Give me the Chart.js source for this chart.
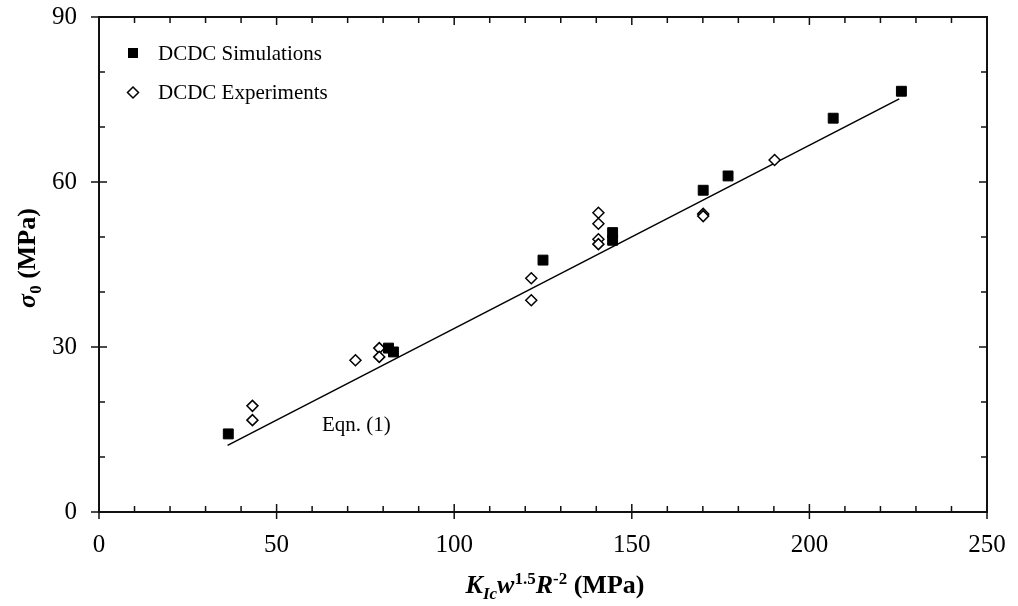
<!DOCTYPE html>
<html lang="en">
<head>
    <meta charset="UTF-8">
    <title>Chart</title>
    <style>
        body { margin: 0; background: #fff; }
    </style>
</head>
<body>
    <canvas id="myChart" width="1018" height="606"></canvas>

    <script src="https://cdn.jsdelivr.net/npm/chart.js@4.4.0/dist/chart.umd.min.js"></script>
    <script>
        // DCDC simulations (filled squares)
        let simX = [36.4, 81.5, 82.9, 125.0, 144.6, 144.6, 170.1, 177.1, 206.7, 225.9];
        let simY = [14.2, 29.8, 29.1, 45.8, 50.8, 49.4, 58.5, 61.1, 71.6, 76.5];
        // DCDC experiments (open diamonds)
        let expX = [43.2, 43.2, 72.2, 78.9, 78.9, 121.7, 121.7, 140.6, 140.6, 140.6, 140.6, 170.1, 170.1, 190.2];
        let expY = [19.3, 16.7, 27.6, 29.8, 28.2, 42.5, 38.5, 54.4, 52.4, 49.6, 48.7, 54.2, 53.8, 64.0];
        // Eqn. (1) line end points
        let eqnX = [36.2, 225.3];
        let eqnY = [12.1, 75.1];

        let xTicks = [0, 50, 100, 150, 200, 250];
        let yTicks = [0, 30, 60, 90];

        const serif = "'Liberation Serif', 'Times New Roman', serif";

        function pts(xs, ys) { return xs.map((x, i) => ({x: x, y: ys[i]})); }

        // frame, ticks, legend, axis titles, label
        const decor = {
            id: 'decor',
            afterDraw(chart) {
                const c = chart.ctx, a = chart.chartArea;
                const sx = chart.scales.x, sy = chart.scales.y;
                c.save();
                c.strokeStyle = '#111';
                c.lineWidth = 2;
                c.strokeRect(a.left, a.top, a.right - a.left, a.bottom - a.top);
                c.lineWidth = 1.5;
                c.beginPath();
                for (let v = 10; v < 250; v += 10) {
                    const px = sx.getPixelForValue(v);
                    const major = v % 50 === 0;
                    const len = major ? 8 : 6;
                    c.moveTo(px, a.bottom + (major ? 7 : 0)); c.lineTo(px, a.bottom - len);
                    c.moveTo(px, a.top); c.lineTo(px, a.top + len);
                }
                for (let v = 10; v < 90; v += 10) {
                    const py = sy.getPixelForValue(v);
                    const major = v % 30 === 0;
                    const len = major ? 8 : 6;
                    c.moveTo(a.left - (major ? 8 : 0), py); c.lineTo(a.left + len, py);
                    c.moveTo(a.right, py); c.lineTo(a.right - len, py);
                }
                c.moveTo(a.left - 8, a.bottom); c.lineTo(a.left, a.bottom);
                c.moveTo(a.left - 8, a.top); c.lineTo(a.left, a.top);
                c.moveTo(a.left, a.bottom); c.lineTo(a.left, a.bottom + 7);
                c.moveTo(a.right, a.bottom); c.lineTo(a.right, a.bottom + 7);
                c.stroke();

                // legend
                c.fillStyle = '#000';
                c.fillRect(128, 48, 10, 10);
                c.beginPath();
                c.moveTo(133, 87); c.lineTo(138.5, 92.5); c.lineTo(133, 98); c.lineTo(127.5, 92.5); c.closePath();
                c.fillStyle = '#fff'; c.fill();
                c.lineWidth = 1.5; c.strokeStyle = '#000'; c.stroke();
                c.fillStyle = '#000';
                c.font = '21px ' + serif;
                c.textBaseline = 'middle';
                c.textAlign = 'left';
                c.fillText('DCDC Simulations', 158, 54);
                c.fillText('DCDC Experiments', 158, 93);
                c.fillText('Eqn. (1)', 322, 425);

                // x title
                const big = "bold 26px " + serif, bigI = "italic bold 26px " + serif;
                const sm = "bold 17px " + serif, smI = "italic bold 17px " + serif;
                let parts = [
                    ['K', bigI, 0], ['Ic', smI, 6], ['w', bigI, 0], ['1.5', sm, -9],
                    ['R', bigI, 0], ['-2', sm, -9], [' (MPa)', big, 0]
                ];
                c.textBaseline = 'alphabetic';
                let w = 0;
                parts.forEach(p => { c.font = p[1]; w += c.measureText(p[0]).width; });
                let x0 = 555 - w / 2;
                parts.forEach(p => { c.font = p[1]; c.fillText(p[0], x0, 593 + p[2]); x0 += c.measureText(p[0]).width; });

                // y title
                parts = [['σ', bigI, 0], ['0', sm, 6], [' (MPa)', big, 0]];
                c.translate(35, 258);
                c.rotate(-Math.PI / 2);
                w = 0;
                parts.forEach(p => { c.font = p[1]; w += c.measureText(p[0]).width; });
                x0 = -w / 2;
                parts.forEach(p => { c.font = p[1]; c.fillText(p[0], x0, p[2]); x0 += c.measureText(p[0]).width; });
                c.restore();
            }
        };

        var ctx = document.getElementById("myChart").getContext('2d');
        var myChart = new Chart(ctx, {
            type: 'scatter',
            data: {
                datasets: [
                    {label: 'DCDC Simulations', data: pts(simX, simY), pointStyle: 'rect', pointRadius: 7,
                     backgroundColor: '#000', borderColor: '#000', borderWidth: 1},
                    {label: 'DCDC Experiments', data: pts(expX, expY), pointStyle: 'rectRot', pointRadius: 5.5,
                     backgroundColor: '#fff', borderColor: '#000', borderWidth: 1.5},
                    {label: 'Eqn. (1)', data: pts(eqnX, eqnY), showLine: true, pointRadius: 0,
                     borderColor: '#000', borderWidth: 1.5, fill: false, order: 5}
                ]
            },
            options: {
                responsive: false,
                animation: false,
                layout: {padding: {top: 17, right: 31, left: 0, bottom: 0}},
                plugins: {legend: {display: false}, tooltip: {enabled: false}},
                scales: {
                    x: {
                        type: 'linear', min: 0, max: 250,
                        afterFit: s => { s.height = 94; s.paddingLeft = 0; s.paddingRight = 0; },
                        afterBuildTicks: s => { s.ticks = xTicks.map(v => ({value: v})); },
                        grid: {display: false}, border: {display: false},
                        ticks: {color: '#000', font: {family: serif, size: 25}, padding: 10, maxRotation: 0}
                    },
                    y: {
                        type: 'linear', min: 0, max: 90,
                        afterFit: s => { s.width = 99; s.paddingTop = 0; s.paddingBottom = 0; },
                        afterBuildTicks: s => { s.ticks = yTicks.map(v => ({value: v})); },
                        grid: {display: false}, border: {display: false},
                        ticks: {color: '#000', font: {family: serif, size: 25}, padding: 14}
                    }
                }
            },
            plugins: [decor]
        });
    </script>
</body>
</html>
